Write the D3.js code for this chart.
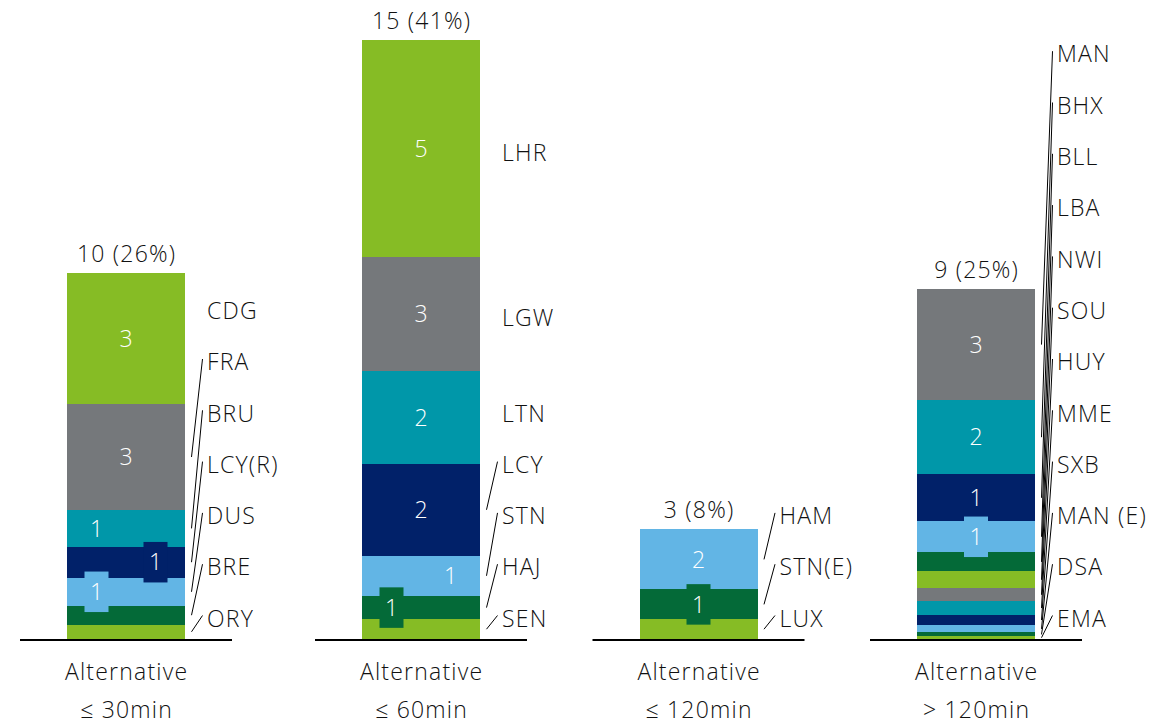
<!DOCTYPE html>
<html>
<head>
<meta charset="utf-8">
<script src="https://cdn.jsdelivr.net/npm/d3@7"></script>
<style>
  body { margin: 0; background: #fff; }
  text { font-family: "Open Sans", "Noto Sans", sans-serif; font-weight: 300; letter-spacing: 1.2px; }
</style>
</head>
<body>
<svg id="chart" width="1173" height="724"></svg>
<script>
// Categories (travel time to the alternative airport)
const categoryPrefix = "Alternative";
const categories = ["≤ 30min", "≤ 60min", "≤ 120min", "> 120min"];

// Airports per category, listed bottom to top of each stack
const airports30  = ["ORY", "BRE", "DUS", "LCY(R)", "BRU", "FRA", "CDG"];
const airports60  = ["SEN", "HAJ", "STN", "LCY", "LTN", "LGW", "LHR"];
const airports120 = ["LUX", "STN(E)", "HAM"];
const airportsOver = ["EMA", "DSA", "MAN (E)", "SXB", "MME", "HUY", "SOU", "NWI", "LBA", "BLL", "BHX", "MAN"];

// Segment values, same order as the airport lists (estimates; the in-bar
// labels show these rounded to whole numbers, zero-rounded ones are unlabelled)
const values30  = [0.36, 0.47, 0.70, 0.78, 0.91, 2.66, 3.27];
const values60  = [0.49, 0.59, 1.00, 2.30, 2.31, 2.86, 5.42];
const values120 = [0.49, 0.75, 1.50];
const valuesOver = [0.065, 0.10, 0.175, 0.27, 0.33, 0.33, 0.42, 0.475, 0.78, 1.17, 1.86, 2.77];

// Stated totals and shares printed above each stack. These are kept as the
// published figures, not recomputed from the segments: the segment values sum
// to roughly 9.2, 15.0, 2.7 and 8.7, so the first stack reads "10" although
// its drawn height corresponds to about 9.2.
const totals = [10, 15, 3, 9];
const shares = [26, 41, 8, 25];

// Segment colours cycle from the bottom of each stack
const palette = ["#86BC25", "#046A38", "#62B5E5", "#012169", "#0097A9", "#75787B"];

const airportLists = [airports30, airports60, airports120, airportsOver];
const valueLists = [values30, values60, values120, valuesOver];

const svg = d3.select("#chart");
const FS = 23;
const ink = "#111";

const x = d3.scaleOrdinal().domain(categories).range([126, 421, 698.5, 976]);
const barW = 118;
const y = d3.scaleLinear().domain([0, 15]).range([639, 39]);

const groups = categories.map((c, i) => {
  const vals = valueLists[i];
  const ends = d3.cumsum(vals);
  const segs = vals.map((v, j) => ({
    name: airportLists[i][j],
    value: v,
    y0: j === 0 ? 0 : ends[j - 1],
    y1: ends[j],
    color: palette[j % palette.length]
  }));
  return { category: c, segs, total: totals[i], share: shares[i], sum: ends[ends.length - 1] };
});

const g = svg.selectAll("g.stack").data(groups).join("g")
  .attr("class", "stack")
  .attr("transform", d => `translate(${x(d.category)},0)`);

// stacked segments
g.selectAll("rect.seg").data(d => d.segs).join("rect")
  .attr("class", "seg")
  .attr("x", -barW / 2)
  .attr("width", barW)
  .attr("y", d => y(d.y1))
  .attr("height", d => y(d.y0) - y(d.y1))
  .attr("fill", d => d.color)
  .attr("shape-rendering", "crispEdges");

// baseline under each stack
g.append("line")
  .attr("x1", -barW / 2 - 47).attr("x2", barW / 2 + 47)
  .attr("y1", y(0) + 1).attr("y2", y(0) + 1)
  .attr("stroke", "#000").attr("stroke-width", 2);

// value labels inside the segments
const slotOffset = 29.5;
const boxH = 40.5, boxW = 24;
groups.forEach(gr => {
  const shown = gr.segs.filter(s => Math.round(s.value) >= 1);
  shown.forEach(s => { s.cy = y((s.y0 + s.y1) / 2); s.h = y(s.y0) - y(s.y1); s.slot = 0; });
  // chains of labels that sit too close vertically alternate left / right
  let chain = [];
  const flush = () => {
    if (chain.length > 1) chain.forEach((s, k) => { s.slot = k % 2 === 0 ? -1 : 1; });
    chain = [];
  };
  shown.forEach((s, k) => {
    if (k > 0 && Math.abs(shown[k - 1].cy - s.cy) < 36) {
      if (chain.length === 0) chain.push(shown[k - 1]);
      chain.push(s);
    } else {
      flush();
    }
  });
  flush();
  gr.valueLabels = shown;
});

const vl = g.selectAll("g.vlabel").data(d => d.valueLabels).join("g")
  .attr("class", "vlabel")
  .attr("transform", d => `translate(${d.slot * slotOffset},${d.cy})`);
vl.filter(d => d.h < 34).append("rect")
  .attr("x", -boxW / 2).attr("y", -boxH / 2)
  .attr("width", boxW).attr("height", boxH)
  .attr("fill", d => d.color);
vl.append("text")
  .attr("text-anchor", "middle")
  .attr("dx", 0.6)
  .attr("dy", "0.36em")
  .attr("fill", "#fff")
  .attr("font-size", FS)
  .text(d => d3.format("d")(Math.round(d.value)));

// airport labels on the right, pushed upward when they would collide
const rowGap = 51.3;
groups.forEach(gr => {
  let prev = y(0) - 20.5 + rowGap;
  gr.segs.forEach(s => {
    const want = y((s.y0 + s.y1) / 2) + 4;
    s.ly = Math.min(want, prev - rowGap);
    prev = s.ly;
    s.leader = (s.ly - 10 < y(s.y1)) || (s.ly + 10 > y(s.y0));
  });
});

g.selectAll("line.leader").data(d => d.segs.filter(s => s.leader)).join("line")
  .attr("class", "leader")
  .attr("x1", barW / 2 + 6.5).attr("y1", d => y((d.y0 + d.y1) / 2))
  .attr("x2", barW / 2 + 17.5).attr("y2", d => d.ly - 3)
  .attr("stroke", "#000").attr("stroke-width", 1);

g.selectAll("text.airport").data(d => d.segs).join("text")
  .attr("class", "airport")
  .attr("x", barW / 2 + 22)
  .attr("y", d => d.ly)
  .attr("dy", "0.36em")
  .attr("font-size", FS)
  .attr("fill", ink)
  .text(d => d.name);

// totals above each stack
g.append("text")
  .attr("text-anchor", "middle")
  .attr("x", 0.6)
  .attr("y", d => y(d.sum) - 11)
  .attr("font-size", FS)
  .attr("fill", ink)
  .text(d => `${d.total} (${d.share}%)`);

// category labels
const cat = g.append("text")
  .attr("text-anchor", "middle")
  .attr("font-size", FS)
  .attr("fill", ink);
cat.append("tspan").attr("x", 0.6).attr("y", 679.5).text(categoryPrefix);
cat.append("tspan").attr("x", 0.6).attr("y", 718).text(d => d.category);
</script>
</body>
</html>
